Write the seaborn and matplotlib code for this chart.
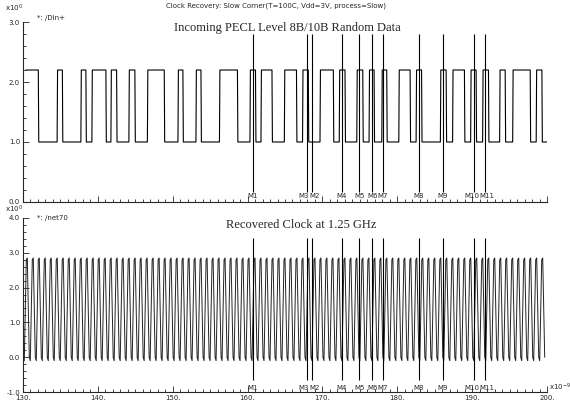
import numpy as np
import pandas as pd
import matplotlib
matplotlib.use("Agg")
import matplotlib.pyplot as plt
import seaborn as sns
from matplotlib.ticker import MultipleLocator, FuncFormatter

# ---- data (time in ns) ----
# /Din+ : incoming 8B/10B data, starts high, toggles at every edge
din_start = 130.4
din_stop = 199.96
din_high = 2.2
din_low = 1.0
din_edges = [132.07, 134.58, 135.28, 137.75, 138.42, 139.22, 141.09, 141.76,
             142.52, 144.16, 144.96, 146.63, 148.88, 150.71, 151.37, 153.11,
             153.78, 156.25, 158.65, 160.32, 161.06, 161.79, 163.26, 164.91,
             166.53, 167.34, 168.11, 169.67, 171.45, 172.24, 173.01, 174.58,
             175.38, 176.22, 176.89, 177.92, 178.58, 180.19, 181.70, 182.50,
             183.23, 185.74, 186.51, 187.37, 188.95, 189.78, 190.51, 191.38,
             192.16, 193.65, 194.39, 195.39, 197.73, 198.53, 199.29]

# /net70 : recovered clock, one period as drawn
clk_start = 130.2
clk_stop = 199.8
clk_freq_ghz = 1.25
clk_shape = [-0.1, 1.3, 2.8, 2.85, 1.4, 0.0]

# cursor markers
marker_names = ["M1", "M3", "M2", "M4", "M5", "M6", "M7", "M8", "M9", "M10", "M11"]
marker_times = [160.7, 167.9, 168.6, 172.6, 174.9, 176.6, 178.1, 182.9, 186.1, 190.2, 191.7]


def step_trace(start, stop, edges, hi, lo, rise=0.06):
    t = [start]
    v = [hi]
    level = hi
    for e in edges:
        nxt = lo if level == hi else hi
        t += [e, e + rise]
        v += [level, nxt]
        level = nxt
    t.append(stop)
    v.append(level)
    return pd.DataFrame({"t": t, "v": v})


din = step_trace(din_start, din_stop, din_edges, din_high, din_low)

n_per = int(round((clk_stop - clk_start) * clk_freq_ghz))
k = len(clk_shape)
clk = pd.DataFrame({
    "t": clk_start + np.arange(n_per * k) / (k * clk_freq_ghz),
    "v": np.tile(clk_shape, n_per),
})

sns.set_style("ticks")
plt.rcParams["font.family"] = ["DejaVu Sans"]

fig = plt.figure(figsize=(5.7, 4.08), dpi=100)
ax1 = fig.add_axes([0.040, 0.505, 0.92, 0.441])
ax2 = fig.add_axes([0.040, 0.039, 0.92, 0.427])

sns.lineplot(data=din, x="t", y="v", ax=ax1, estimator=None, sort=False,
             color="black", lw=0.8)
sns.lineplot(data=clk, x="t", y="v", ax=ax2, estimator=None, sort=False,
             color="#222222", lw=0.7)

ax1.set_ylim(0, 3)
ax2.set_ylim(-1, 4)

for ax in (ax1, ax2):
    ax.set_xlim(130, 200)
    ax.xaxis.set_major_locator(MultipleLocator(10))
    ax.xaxis.set_minor_locator(MultipleLocator(1))
    ax.yaxis.set_major_locator(MultipleLocator(1))
    ax.yaxis.set_minor_locator(MultipleLocator(0.2))
    ax.xaxis.set_major_formatter(FuncFormatter(lambda x, p: f"{x:.0f}."))
    ax.yaxis.set_major_formatter(FuncFormatter(lambda y, p: f"{y:.1f}"))
    ax.tick_params(which="both", direction="in", labelsize=5, width=0.6, pad=2)
    ax.tick_params(which="major", length=4)
    ax.tick_params(which="minor", length=2)
    ax.set_xlabel("")
    ax.set_ylabel("")
    sns.despine(ax=ax)
    for s in ("left", "bottom"):
        ax.spines[s].set_linewidth(0.8)

ax1.tick_params(axis="x", labelbottom=False)

# cursor lines + labels; labels of cursors that sit close together are
# pushed apart around their midpoint so they don't print on top of each other
ax1.vlines(marker_times, 0.17, 2.8, color="black", lw=0.8)
ax2.vlines(marker_times, -0.66, 3.43, color="black", lw=0.8)
for i, (name, t) in enumerate(zip(marker_names, marker_times)):
    ha, x = "center", t
    if i + 1 < len(marker_times) and marker_times[i + 1] - t < 1.6:
        ha, x = "right", (t + marker_times[i + 1]) / 2
    elif i > 0 and t - marker_times[i - 1] < 1.6:
        ha, x = "left", (t + marker_times[i - 1]) / 2
    ax1.text(x, 0.05, name, fontsize=5, ha=ha, va="bottom")
    ax2.text(x, -0.97, name, fontsize=5, ha=ha, va="bottom")

# annotations
serif = ["Liberation Serif", "DejaVu Serif"]
fig.text(0.485, 0.985, "Clock Recovery: Slow Corner(T=100C, Vdd=3V, process=Slow)",
         fontsize=5, ha="center", va="center")
fig.text(0.504, 0.931, "Incoming PECL Level 8B/10B Random Data",
         fontsize=9, family=serif, ha="center", va="center")
fig.text(0.528, 0.449, "Recovered Clock at 1.25 GHz",
         fontsize=9, family=serif, ha="center", va="center")
fig.text(0.009, 0.980, r"x10$^{0}$", fontsize=5, ha="left", va="center")
fig.text(0.009, 0.486, r"x10$^{0}$", fontsize=5, ha="left", va="center")
fig.text(0.065, 0.956, "*: /Din+", fontsize=5, ha="left", va="center")
fig.text(0.065, 0.466, "*: /net70", fontsize=5, ha="left", va="center")
fig.text(0.964, 0.050, r"x10$^{-9}$", fontsize=5, ha="left", va="center")

fig.savefig("out.png", dpi=100)
